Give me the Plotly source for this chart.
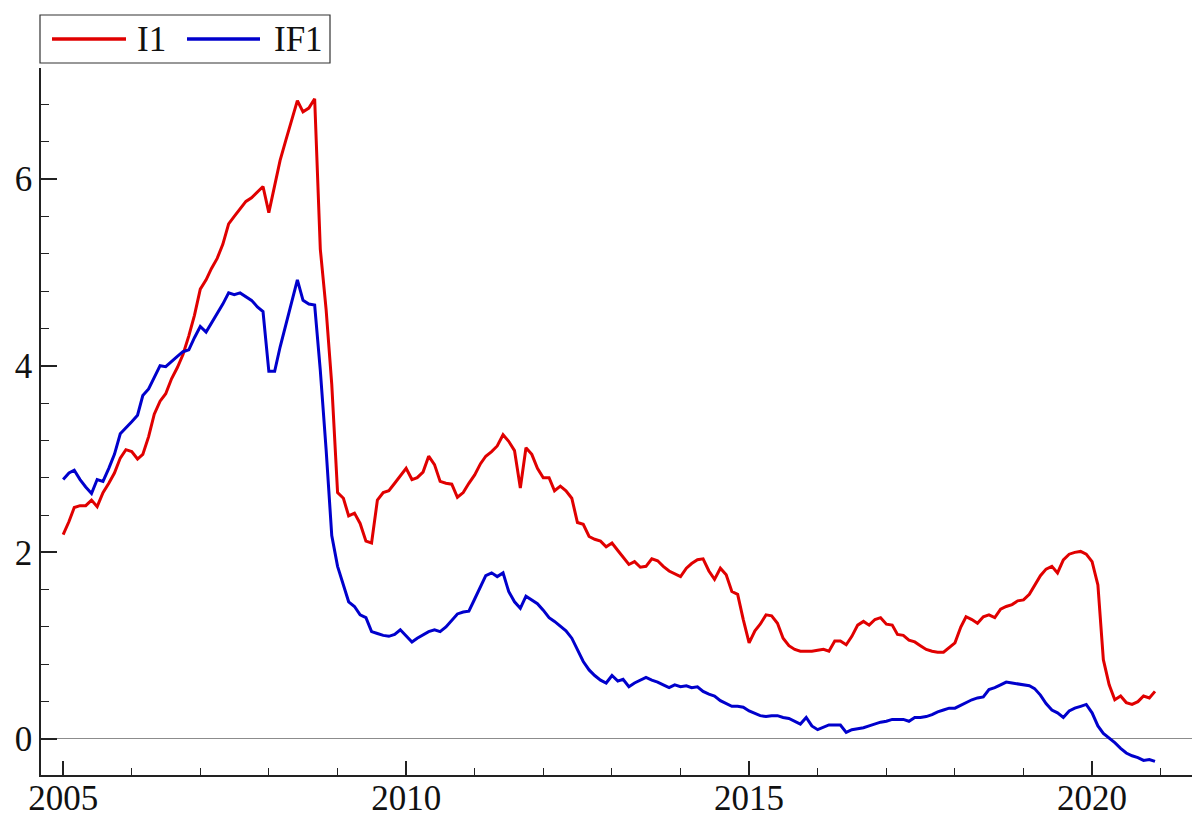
import pandas as pd
import plotly.graph_objects as go

# Monthly observations, January 2005 to December 2020
months = pd.date_range("2005-01-01", periods=192, freq="MS")

i1 = [
    # 2005
    2.19, 2.33, 2.48, 2.50, 2.50, 2.56, 2.49, 2.64, 2.74, 2.85, 3.01, 3.10,
    # 2006
    3.08, 3.00, 3.05, 3.24, 3.48, 3.62, 3.70, 3.86, 3.98, 4.12, 4.32, 4.54,
    # 2007
    4.82, 4.92, 5.04, 5.15, 5.30, 5.52, 5.60, 5.68, 5.76, 5.80, 5.86, 5.92,
    # 2008
    5.64, 5.95, 6.20, 6.42, 6.62, 6.84, 6.72, 6.76, 6.86, 5.25, 4.60, 3.80,
    # 2009
    2.64, 2.58, 2.39, 2.42, 2.31, 2.12, 2.10, 2.56, 2.64, 2.66, 2.74, 2.82,
    # 2010
    2.90, 2.78, 2.80, 2.86, 3.03, 2.94, 2.76, 2.74, 2.73, 2.59, 2.64, 2.74,
    # 2011
    2.83, 2.95, 3.03, 3.08, 3.14, 3.26, 3.19, 3.09, 2.69, 3.12, 3.05, 2.90,
    # 2012
    2.80, 2.80, 2.66, 2.71, 2.66, 2.58, 2.32, 2.30, 2.17, 2.14, 2.12, 2.06,
    # 2013
    2.10, 2.02, 1.95, 1.87, 1.90, 1.84, 1.85, 1.93, 1.91, 1.85, 1.80, 1.77,
    # 2014
    1.74, 1.83, 1.88, 1.92, 1.93, 1.80, 1.71, 1.83, 1.76, 1.58, 1.55, 1.28,
    # 2015
    1.03, 1.16, 1.23, 1.33, 1.32, 1.24, 1.08, 1.00, 0.96, 0.94, 0.94, 0.94,
    # 2016
    0.95, 0.96, 0.94, 1.05, 1.05, 1.01, 1.10, 1.22, 1.26, 1.22, 1.28, 1.30,
    # 2017
    1.23, 1.22, 1.12, 1.11, 1.06, 1.04, 1.00, 0.96, 0.94, 0.93, 0.93, 0.98,
    # 2018
    1.03, 1.20, 1.31, 1.28, 1.24, 1.31, 1.33, 1.30, 1.39, 1.42, 1.44, 1.48,
    # 2019
    1.49, 1.55, 1.65, 1.75, 1.82, 1.85, 1.78, 1.92, 1.98, 2.00, 2.01, 1.98,
    # 2020
    1.90, 1.65, 0.85, 0.58, 0.42, 0.46, 0.39, 0.37, 0.40, 0.46, 0.44, 0.51,
]

if1 = [
    # 2005
    2.78, 2.85, 2.88, 2.78, 2.70, 2.63, 2.78, 2.76, 2.90, 3.05, 3.27, 3.34,
    # 2006
    3.40, 3.47, 3.68, 3.75, 3.88, 4.00, 3.99, 4.04, 4.10, 4.15, 4.17, 4.30,
    # 2007
    4.42, 4.36, 4.45, 4.55, 4.66, 4.78, 4.76, 4.78, 4.74, 4.70, 4.63, 4.58,
    # 2008
    3.94, 3.94, 4.20, 4.45, 4.68, 4.92, 4.70, 4.66, 4.65, 3.95, 3.10, 2.18,
    # 2009
    1.85, 1.64, 1.47, 1.42, 1.33, 1.30, 1.15, 1.13, 1.11, 1.10, 1.12, 1.17,
    # 2010
    1.10, 1.04, 1.08, 1.12, 1.15, 1.17, 1.15, 1.20, 1.27, 1.34, 1.36, 1.37,
    # 2011
    1.50, 1.63, 1.75, 1.78, 1.74, 1.78, 1.58, 1.47, 1.40, 1.53, 1.49, 1.45,
    # 2012
    1.38, 1.30, 1.26, 1.21, 1.16, 1.08, 0.95, 0.83, 0.74, 0.68, 0.63, 0.60,
    # 2013
    0.68, 0.62, 0.64, 0.56, 0.60, 0.63, 0.66, 0.63, 0.61, 0.58, 0.55, 0.58,
    # 2014
    0.56, 0.57, 0.55, 0.56, 0.51, 0.48, 0.46, 0.41, 0.38, 0.35, 0.35, 0.34,
    # 2015
    0.30, 0.27, 0.25, 0.24, 0.25, 0.25, 0.23, 0.22, 0.19, 0.16, 0.23, 0.14,
    # 2016
    0.10, 0.13, 0.15, 0.15, 0.15, 0.07, 0.10, 0.11, 0.12, 0.14, 0.16, 0.18,
    # 2017
    0.19, 0.21, 0.21, 0.21, 0.19, 0.23, 0.23, 0.24, 0.26, 0.29, 0.31, 0.33,
    # 2018
    0.33, 0.36, 0.39, 0.42, 0.44, 0.45, 0.53, 0.55, 0.58, 0.61, 0.60, 0.59,
    # 2019
    0.58, 0.57, 0.54, 0.47, 0.38, 0.31, 0.28, 0.23, 0.30, 0.33, 0.35, 0.37,
    # 2020
    0.28, 0.14, 0.06, 0.01, -0.04, -0.10, -0.15, -0.18, -0.20, -0.23, -0.22, -0.24,
]

series_names = ["I1", "IF1"]
series_colors = ["#e00000", "#0000cc"]

FONT = "Liberation Serif"

fig = go.Figure()
for name, values, color in zip(series_names, [i1, if1], series_colors):
    fig.add_trace(go.Scatter(
        x=months, y=values, mode="lines", name=name,
        line=dict(color=color, width=3), showlegend=False,
    ))

W, H = 1198, 817
ml, mr, mt, mb = 41, 6, 68, 42
pw, ph = W - ml - mr, H - mt - mb


def px_x(px):
    return (px - ml) / pw


def px_y(py):
    return (H - mb - py) / ph


# Boxed legend above the plot, drawn with shapes and text
shapes = [dict(
    type="rect", xref="paper", yref="paper",
    x0=px_x(40), x1=px_x(330), y0=px_y(63), y1=px_y(15),
    line=dict(color="#333333", width=1.2), fillcolor="white", layer="above",
)]
annotations = []
legend_items = [(52, 126, 135), (187, 260, 272)]
for (lx0, lx1, tx), name, color in zip(legend_items, series_names, series_colors):
    shapes.append(dict(
        type="line", xref="paper", yref="paper",
        x0=px_x(lx0), x1=px_x(lx1), y0=px_y(39), y1=px_y(39),
        line=dict(color=color, width=3.5),
    ))
    annotations.append(dict(
        xref="paper", yref="paper", x=px_x(tx), y=px_y(40),
        xanchor="left", yanchor="middle", text=name, showarrow=False,
        font=dict(family=FONT, size=35, color="#111111"),
    ))

fig.update_layout(
    width=W, height=H,
    margin=dict(l=ml, r=mr, t=mt, b=mb, autoexpand=False),
    paper_bgcolor="white", plot_bgcolor="white",
    shapes=shapes, annotations=annotations,
    showlegend=False,
)

fig.update_xaxes(
    type="date", automargin=False,
    range=["2004-09-05", "2021-06-16"],
    tickmode="linear", tick0="2005-01-01", dtick="M60", tickformat="%Y",
    ticks="inside", ticklen=14, tickwidth=1.5, tickcolor="#222222",
    minor=dict(ticks="inside", ticklen=7, tickwidth=1.3, tickcolor="#222222",
               dtick="M12", tick0="2005-01-01", showgrid=False),
    showline=True, linecolor="#222222", linewidth=1.5,
    showgrid=False, zeroline=False,
    ticklabelstandoff=-9,
    tickfont=dict(family=FONT, size=35, color="#111111"),
)

fig.update_yaxes(
    automargin=False,
    range=[-0.386, 7.19],
    tickmode="linear", tick0=0, dtick=2,
    ticks="inside", ticklen=16, tickwidth=1.5, tickcolor="#222222",
    minor=dict(ticks="inside", ticklen=8, tickwidth=1.3, tickcolor="#222222",
               dtick=0.4, tick0=0, showgrid=False),
    showline=True, linecolor="#222222", linewidth=1.5,
    showgrid=False,
    zeroline=True, zerolinecolor="#8c8c8c", zerolinewidth=1.3,
    tickfont=dict(family=FONT, size=35, color="#111111"),
)

fig.write_html("out.html")
